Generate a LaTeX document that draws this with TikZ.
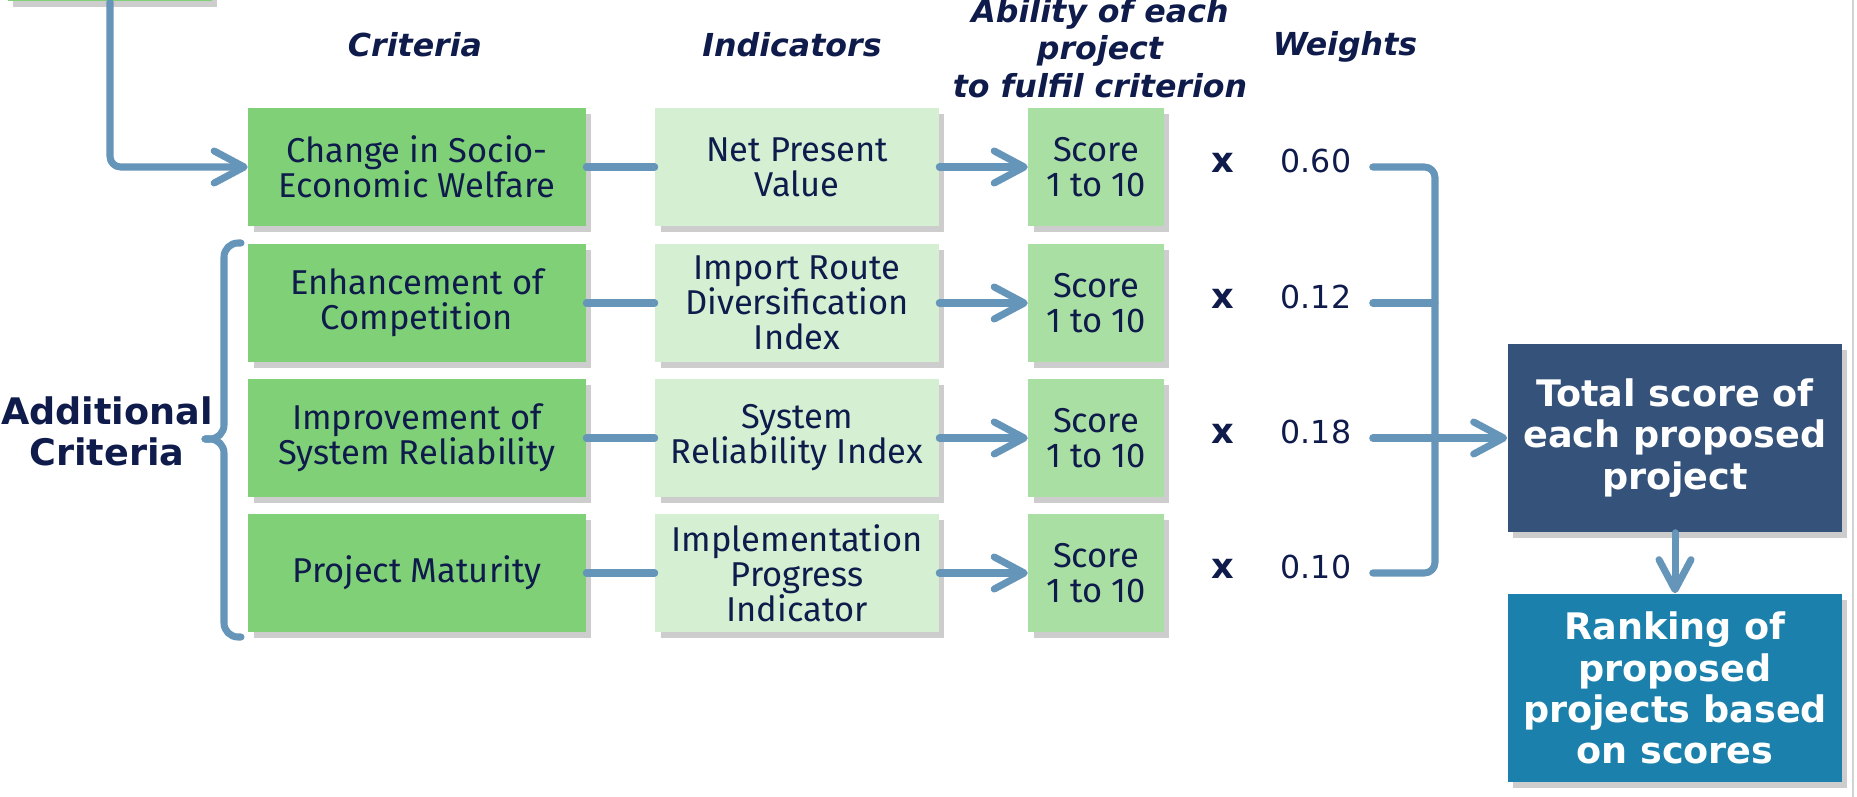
\documentclass[tikz,border=0pt]{standalone}
\usepackage{fontspec}
\setmainfont{Fira Sans}
\newfontfamily\headfont{DejaVu Sans}
\usepackage{xcolor}
\usepackage{tikz}
\usetikzlibrary{arrows.meta,shadows}
\definecolor{navy}{HTML}{0E1B4B}
\definecolor{critgreen}{HTML}{80D078}
\definecolor{indgreen}{HTML}{D5EFD3}
\definecolor{scoregreen}{HTML}{AADFA4}
\definecolor{wireblue}{HTML}{6595B9}
\definecolor{totalblue}{HTML}{34527A}
\definecolor{rankblue}{HTML}{1B80AB}
\newcommand{\boxfont}{\fontsize{9.8}{10}\selectfont}
\newcommand{\headerfont}{\headfont\bfseries\itshape\fontsize{9}{10.6}\selectfont}
\newcommand{\bigfont}{\headfont\bfseries\fontsize{10.4}{11.7}\selectfont}
\tikzset{
	>={Straight Barb[length=3mm,width=3.2mm,round]}, % open chevron heads
	wire/.style={draw=wireblue, line width=2pt, line cap=round, line join=round},
	shade box/.style={drop shadow={shadow xshift=1.5pt, shadow yshift=-1.8pt, opacity=0.28, fill=black!70}},
	box/.style={shade box, inner sep=0pt, align=center, text=navy, font=\boxfont},
	crit/.style={box, fill=critgreen, minimum width=3.37cm, minimum height=1.18cm},
	indic/.style={box, fill=indgreen, minimum width=2.83cm, minimum height=1.18cm},
	score/.style={box, fill=scoregreen, minimum width=1.35cm, minimum height=1.18cm},
	result/.style={shade box, inner sep=0pt, align=center, text=white, font=\bigfont, minimum width=3.34cm, minimum height=1.88cm},
	header/.style={text=navy, font=\headerfont, align=center, inner sep=0pt},
	weight/.style={text=navy, font=\headfont\fontsize{9}{10}\selectfont, inner sep=0pt, minimum width=1.12cm, anchor=base},
	times/.style={text=navy, font=\headfont\bfseries\fontsize{10}{10}\selectfont, inner sep=0pt, anchor=base},
}
\begin{document}
\begin{tikzpicture}[x=0.01cm, y=-0.01cm]
	\useasboundingbox (0,0) rectangle (1857,797);
	\draw[gray!35, line width=0.6pt] (1853,0) -- (1853,797);

	% column headings
	\node[header, anchor=base] (hcrit) at (415,56) {Criteria};
	\node[header, anchor=base] (hind) at (792,56) {Indicators};
	\node[header] (habil) at (1100,48) {Ability of each\\project\\to fulfil criterion};
	\node[header, anchor=base] (hweight) at (1345,55) {Weights};

	\node[box, fill=critgreen, minimum width=2.04cm, minimum height=0.9cm] (source) at (110,-44) {};

	\node[crit] (c1) at (417,167) {Change in Socio-\\Economic Welfare};
	\node[crit] (c2) at (417,303) {Enhancement of\\Competition};
	\node[crit] (c3) at (417,438) {Improvement of\\System Reliability};
	\node[crit] (c4) at (417,573) {Project Maturity};

	\node[indic] (i1) at (797,167) {Net Present\\Value};
	\node[indic] (i2) at (797,303) {Import Route\\Diversification\\Index};
	\node[indic] (i3) at (797,438) {System\\Reliability Index};
	\node[indic] (i4) at (797,573) {Implementation\\Progress\\Indicator};

	\node[score] (s1) at (1096,167) {Score\\1 to 10};
	\node[score] (s2) at (1096,303) {Score\\1 to 10};
	\node[score] (s3) at (1096,438) {Score\\1 to 10};
	\node[score] (s4) at (1096,573) {Score\\1 to 10};

	\node[times] (x1) at (1223,172) {x};
	\node[times] (x2) at (1223,308) {x};
	\node[times] (x3) at (1223,443) {x};
	\node[times] (x4) at (1223,578) {x};

	\node[weight] (w1) at (1316,172) {0.60};
	\node[weight] (w2) at (1316,308) {0.12};
	\node[weight] (w3) at (1316,443) {0.18};
	\node[weight] (w4) at (1316,578) {0.10};

	\node[result, fill=totalblue] (total) at (1675,438) {Total score of\\each proposed\\project};
	\node[result, fill=rankblue] (rank) at (1675,688) {Ranking of\\proposed\\projects based\\on scores};

	\node[text=navy, font=\bigfont, align=center, inner sep=0pt] (addl) at (107,431) {Additional\\Criteria};

	\coordinate (join) at (1435,438);
	\coordinate (tip) at (205,439);

	\draw[wire, ->, rounded corners=3pt] (source.south) |- (c1);
	\draw[wire] (c1) edge (i1)
		(c2) edge (i2)
		(c3) edge (i3)
		(c4) edge (i4)
		(i1) edge[->] (s1)
		(i2) edge[->] (s2)
		(i3) edge[->] (s3)
		(i4) edge[->] (s4)
		(total) edge[->] (rank);
	\draw[wire, rounded corners=3pt] (w1.east |- s1) -| (join) |- (w4.east |- s4);
	\draw[wire] (w2.east |- s2) -- (join |- s2);
	\draw[wire, ->] (w3.east |- s3) -- (join) -- (total);
	% bracket of the additional criteria
	\draw[wire, rounded corners=4pt] (241,243) -- (224,243) -- (224,439) -- (tip);
	\draw[wire, rounded corners=4pt] (tip) -- (224,439) -- (224,637) -- (241,637);
\end{tikzpicture}
\end{document}
